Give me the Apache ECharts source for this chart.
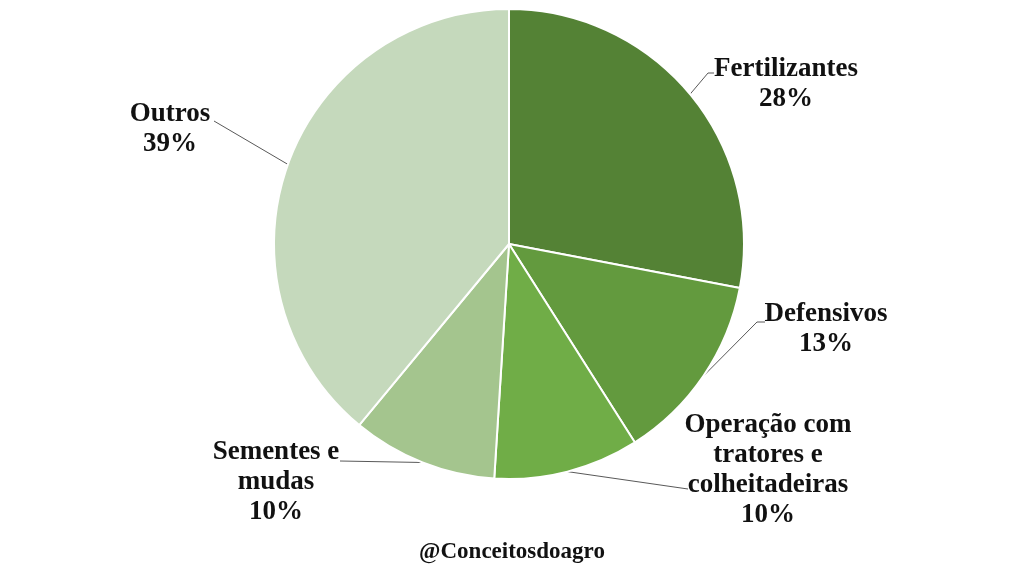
<!DOCTYPE html>
<html>
<head>
<meta charset="utf-8">
<script src="https://cdn.jsdelivr.net/npm/echarts@6/dist/echarts.min.js"></script>
<style>html,body{margin:0;padding:0;background:#fff;}#c{width:1024px;height:576px;}</style>
</head>
<body>
<div id="c"></div>
<script>
const categories = ['Fertilizantes', 'Defensivos', 'Operação com\ntratores e\ncolheitadeiras', 'Sementes e\nmudas', 'Outros'];
const values = [28, 13, 10, 10, 39];
const colors = ['#548235', '#639a3e', '#70ad47', '#a4c58e', '#c5d9bc'];
// label layout (positions only)
const labelPos = [[786, 84], [826, 329], [768, 470], [276, 482], [170, 129]];
const lineElbow = [[[708, 73], [714, 73]], [[757, 322], [765, 322]], [[688, 489], [688, 489]], [[340, 461], [340, 461]], [[214, 121], [214, 121]]];

const chart = echarts.init(document.getElementById('c'));
chart.setOption({
  backgroundColor: '#fff',
  animation: false,
  title: {
    text: '@Conceitosdoagro',
    left: 'center',
    top: 536,
    textStyle: { fontFamily: 'Liberation Serif', fontWeight: 'bold', fontSize: 23, color: '#111' }
  },
  series: [{
    type: 'pie',
    center: [509, 244],
    radius: [0, 235],
    startAngle: 90,
    clockwise: true,
    data: categories.map((n, i) => ({ name: n, value: values[i], itemStyle: { color: colors[i] } })),
    itemStyle: { borderColor: '#fff', borderWidth: 2 },
    label: {
      formatter: '{b}\n{c}%',
      fontFamily: 'Liberation Serif',
      fontWeight: 'bold',
      fontSize: 27,
      lineHeight: 30,
      color: '#111',
      align: 'center'
    },
    labelLine: { show: true, length: 20, length2: 10, lineStyle: { color: '#595959', width: 1 } },
    labelLayout: function (p) {
      const pos = labelPos[p.dataIndex];
      const res = { x: pos[0], y: pos[1], align: 'center', verticalAlign: 'middle', hideOverlap: false };
      if (p.labelLinePoints && p.labelLinePoints[0]) {
        const e = lineElbow[p.dataIndex];
        res.labelLinePoints = [p.labelLinePoints[0].slice(), e[0], e[1]];
      }
      return res;
    }
  }]
});
</script>
</body>
</html>
